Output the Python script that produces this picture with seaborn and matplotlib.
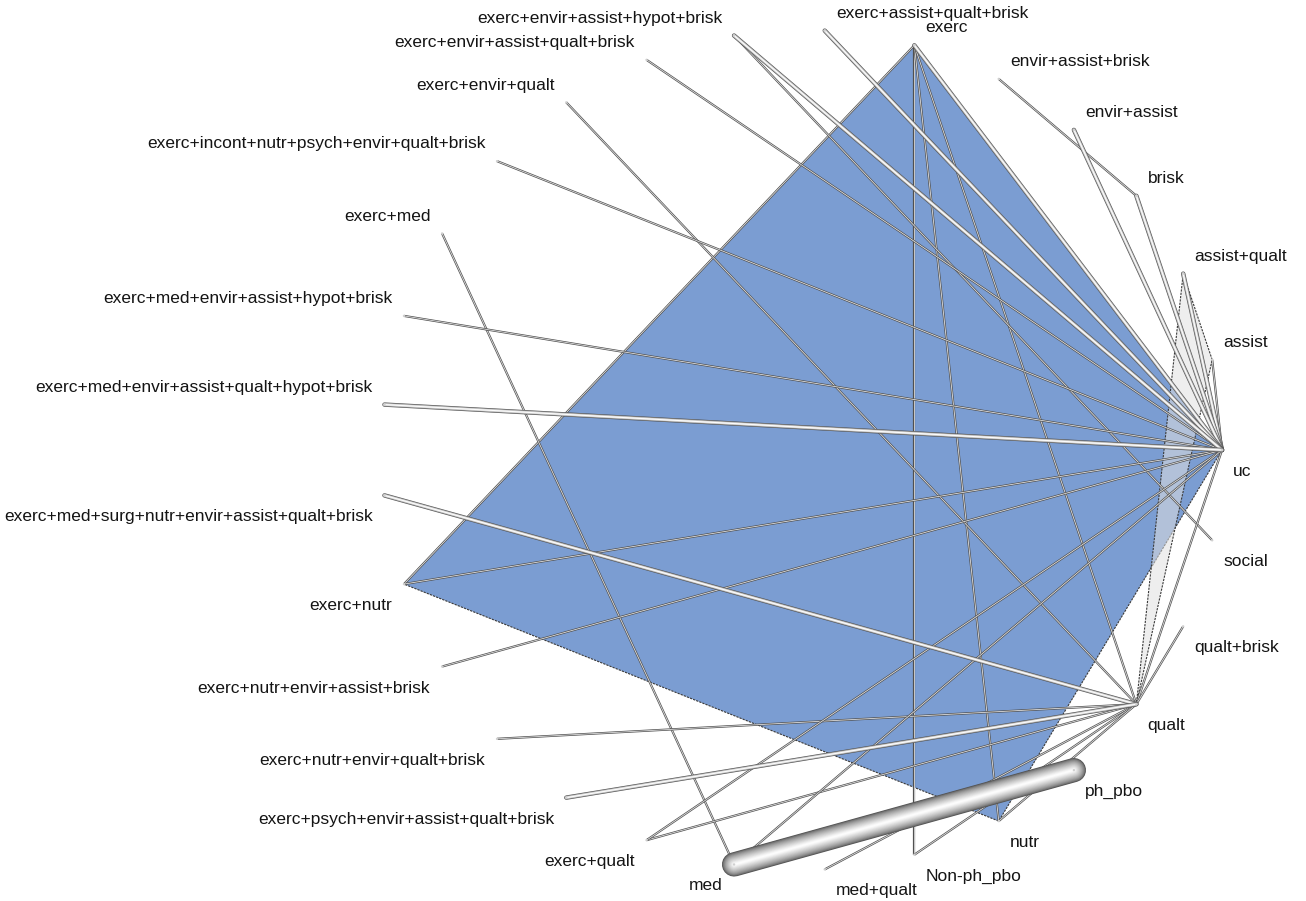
import numpy as np
import pandas as pd
import matplotlib
matplotlib.use("Agg")
import matplotlib.pyplot as plt
from matplotlib.patches import Polygon
import seaborn as sns

# Treatments in network order (alphabetical, "uc" closes the circle)
treatments = [
    "assist", "assist+qualt", "brisk", "envir+assist", "envir+assist+brisk",
    "exerc", "exerc+assist+qualt+brisk", "exerc+envir+assist+hypot+brisk",
    "exerc+envir+assist+qualt+brisk", "exerc+envir+qualt",
    "exerc+incont+nutr+psych+envir+qualt+brisk", "exerc+med",
    "exerc+med+envir+assist+hypot+brisk",
    "exerc+med+envir+assist+qualt+hypot+brisk",
    "exerc+med+surg+nutr+envir+assist+qualt+brisk", "exerc+nutr",
    "exerc+nutr+envir+assist+brisk", "exerc+nutr+envir+qualt+brisk",
    "exerc+psych+envir+assist+qualt+brisk", "exerc+qualt", "med", "med+qualt",
    "Non-ph_pbo", "nutr", "ph_pbo", "qualt", "qualt+brisk", "social", "uc",
]

# Direct comparisons: (treatment A, treatment B, number of studies)
edge_a = [
    "assist", "assist+qualt", "brisk", "envir+assist", "envir+assist+brisk",
    "exerc", "exerc", "exerc", "exerc", "exerc",
    "exerc+assist+qualt+brisk", "exerc+envir+assist+hypot+brisk",
    "exerc+envir+assist+hypot+brisk", "exerc+envir+assist+qualt+brisk",
    "exerc+envir+qualt", "exerc+incont+nutr+psych+envir+qualt+brisk",
    "exerc+med", "exerc+med+envir+assist+hypot+brisk",
    "exerc+med+envir+assist+qualt+hypot+brisk",
    "exerc+med+surg+nutr+envir+assist+qualt+brisk", "exerc+nutr",
    "exerc+nutr+envir+assist+brisk", "exerc+nutr+envir+qualt+brisk",
    "exerc+psych+envir+assist+qualt+brisk", "exerc+qualt", "exerc+qualt",
    "med", "med", "med+qualt", "Non-ph_pbo", "nutr", "qualt", "qualt",
]
edge_b = [
    "uc", "uc", "uc", "uc", "brisk",
    "uc", "Non-ph_pbo", "nutr", "qualt", "exerc+nutr",
    "uc", "uc",
    "social", "uc",
    "qualt", "uc",
    "med", "uc",
    "uc",
    "qualt", "uc",
    "uc", "qualt",
    "qualt", "qualt", "uc",
    "ph_pbo", "uc", "qualt", "qualt", "qualt", "uc", "qualt+brisk",
]
edge_studies = [
    1, 2, 2, 2, 1,
    2, 1, 1, 1, 1,
    2, 2, 1, 1,
    1, 1,
    1, 1,
    2,
    2, 1,
    1, 1,
    2, 1, 1,
    11, 1, 1, 1, 1, 1, 1,
]

# Multi-arm trials shaded as polygons
multiarm_blue = ["exerc", "exerc+nutr", "nutr", "uc"]
multiarm_grey = ["assist", "assist+qualt", "qualt"]

sns.set_theme(style="white")
plt.rcParams["font.family"] = ["Liberation Sans", "DejaVu Sans"]

W, H = 1306, 901
fig = plt.figure(figsize=(W / 100, H / 100), dpi=100)
ax = fig.add_axes([0, 0, 1, 1])

# Circular layout
n = len(treatments)
cx, cy, radius = 802.0, 450.0, 420.0
theta = np.deg2rad((np.arange(n) + 1) * 360.0 / n)
nodes = pd.DataFrame({
    "treatment": treatments,
    "x": cx + radius * np.cos(theta),
    "y": cy - radius * np.sin(theta),
    "angle": np.rad2deg(theta) % 360,
})
pos = {t: (x, y) for t, x, y in zip(nodes.treatment, nodes.x, nodes.y)}


def poly_xy(names):
    return np.array([pos[t] for t in names])


ax.add_patch(Polygon(poly_xy(multiarm_blue), closed=True, facecolor="#7b9dd2",
                     edgecolor="#3a3a3a", linewidth=0.8, linestyle=(0, (2, 1)),
                     zorder=1))
ax.add_patch(Polygon(poly_xy(multiarm_grey), closed=True, facecolor="#e0e0e0",
                     alpha=0.55, edgecolor="none", zorder=2))
ax.add_patch(Polygon(poly_xy(multiarm_grey), closed=True, facecolor="none",
                     edgecolor="#3a3a3a", linewidth=0.8, linestyle=(0, (2, 1)),
                     zorder=2))

PX = 72.0 / 100.0  # points per pixel


def draw_tube(a, b, width_px, z):
    xa, ya = pos[a]
    xb, yb = pos[b]
    if width_px <= 2.5:
        ax.plot([xa, xb], [ya, yb], color="#505050", lw=2.2 * PX,
                solid_capstyle="butt", zorder=z)
        ax.plot([xa, xb], [ya, yb], color="#e4e4e4", lw=0.8 * PX,
                solid_capstyle="butt", zorder=z + 0.01)
        return
    layers = int(min(max(width_px, 4), 16))
    for k in range(layers):
        frac = 1.0 - k / layers
        shade = 0.32 + 0.68 * (k / (layers - 1)) ** 0.65
        ax.plot([xa, xb], [ya, yb], color=str(min(shade, 0.99)),
                lw=width_px * frac * PX, solid_capstyle="round",
                zorder=z + k * 0.001)


edges = pd.DataFrame({"a": edge_a, "b": edge_b, "studies": edge_studies})
edges["width_px"] = np.where(edges.studies == 1, 2.0, 2.2 * edges.studies)
edges = edges.sort_values("width_px", kind="stable").reset_index(drop=True)
for i, row in edges.iterrows():
    draw_tube(row.a, row.b, row.width_px, 3 + i * 0.02)

sns.scatterplot(data=nodes, x="x", y="y", s=3, color="#d0d0d0",
                edgecolor="none", ax=ax, zorder=6, legend=False)
ax.set_xlim(0, W)
ax.set_ylim(H, 0)
ax.axis("off")

# Treatment labels beside each node
for t, x, y, ang in zip(nodes.treatment, nodes.x, nodes.y, nodes.angle):
    right = x >= cx
    upper = 0.5 < ang < 179.5
    dx = 8.0 if right else -8.5
    dy = 12.5 if upper else -15.5
    ax.annotate(t, (x, y), xytext=(dx, dy), textcoords="offset points",
                ha="left" if right else "right", va="center",
                fontsize=12.5, color="#141414", zorder=7)

fig.savefig("out.png", dpi=100)
